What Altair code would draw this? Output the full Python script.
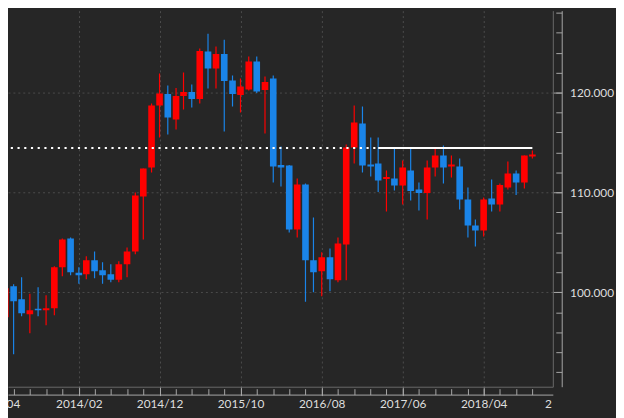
import altair as alt
import pandas as pd

# ---------------- data (monthly candles) ----------------
months = [d.strftime("%Y-%m-%d") for d in pd.date_range("2013-05-01", periods=66, freq="MS")]

opens = [97.5, 100.6, 99.3, 97.8, 98.35, 98.2, 98.4, 102.5,
         105.4, 101.95, 101.8, 103.2, 102.2, 101.8, 101.25, 102.8, 104.1, 109.6, 112.5, 118.7,
         119.85, 117.3, 119.65, 120.05, 119.35, 124.1, 122.4, 123.85, 121.2, 119.75, 120.3, 123.1,
         120.25, 121.4, 112.75, 112.7, 106.3, 110.8, 103.2, 102.1, 103.5, 101.2, 104.8, 114.5,
         116.9, 112.8, 112.9, 111.35, 111.4, 110.7, 112.2, 110.3, 109.95, 112.5, 113.7, 112.6,
         112.6, 109.3, 106.7, 106.2, 109.4, 108.8, 110.5, 111.9, 111.0, 113.6]
highs = [100.9, 100.8, 101.5, 99.85, 100.5, 99.7, 102.6, 105.4,
         105.5, 102.5, 103.6, 104.1, 103.0, 102.8, 103.1, 104.5, 110.0, 112.4, 118.9, 121.9,
         120.7, 120.45, 122.0, 120.8, 124.4, 125.9, 124.6, 125.3, 121.7, 121.4, 123.6, 123.6,
         121.6, 121.7, 114.6, 112.75, 111.4, 110.9, 107.5, 104.0, 104.4, 105.5, 114.8, 118.7,
         118.6, 115.5, 115.5, 112.2, 114.4, 113.2, 114.4, 111.0, 113.2, 114.4, 114.7, 113.7,
         113.4, 110.5, 107.3, 109.5, 111.3, 110.9, 113.1, 112.2, 113.7, 114.2]
lows = [97.2, 93.8, 97.6, 95.9, 97.6, 96.7, 97.7, 101.6,
        101.7, 100.85, 101.3, 101.4, 100.85, 101.0, 101.0, 101.5, 103.8, 105.3, 112.0, 115.5,
        115.8, 116.3, 118.3, 118.5, 118.9, 120.4, 120.4, 116.1, 118.6, 118.0, 120.2, 119.95,
        115.9, 111.0, 110.6, 106.0, 105.5, 99.05, 100.0, 99.6, 100.1, 101.0, 101.2, 112.9,
        112.0, 111.6, 110.05, 108.1, 110.2, 108.8, 109.2, 108.2, 107.3, 111.6, 110.9, 111.5,
        108.3, 105.5, 104.6, 105.6, 108.1, 108.1, 110.3, 109.75, 110.4, 113.4]
closes = [100.4, 99.1, 97.9, 98.2, 98.2, 98.4, 102.5, 105.3,
          102.0, 101.7, 103.2, 102.1, 101.7, 101.25, 102.8, 104.1, 109.7, 112.4, 118.7, 119.9,
          117.5, 119.65, 120.05, 119.35, 124.15, 122.4, 123.85, 121.15, 119.85, 120.6, 123.1, 120.1,
          121.05, 112.6, 112.5, 106.3, 110.8, 103.2, 102.0, 103.5, 101.3, 104.9, 114.5, 117.0,
          112.7, 112.6, 111.2, 111.55, 110.7, 112.5, 110.15, 109.95, 112.5, 113.7, 112.5, 112.8,
          109.3, 106.7, 106.2, 109.3, 108.8, 110.75, 111.9, 111.0, 113.7, 113.8]

# horizontal reference levels (dotted, then solid)
level_value = 114.45
level_styles = ["dotted", "solid"]
level_starts = ["2013-04-01", "2017-03-01"]
level_ends = ["2017-03-01", "2018-10-01"]

df = pd.DataFrame({"month": months, "open": opens, "high": highs,
                   "low": lows, "close": closes})
df["dir"] = ["up" if c >= o else "down" for o, c in zip(opens, closes)]

lines_df = pd.DataFrame({"style": level_styles, "start": level_starts,
                         "end": level_ends, "level": [level_value] * 2})

# ---------------- styling ----------------
BG = "#262626"
GRID = "#4c4c4c"
BORDER = "#6a6a6a"
AXISLINE = "#a8a8a8"
TICK = "#a8a8a8"
LABEL = "#dedede"
FONT = "Lato"
RED = "#ff0000"
BLUE = "#1a84e8"


def dt(y, m, d=1, h=0):
    return alt.DateTime(year=y, month=m, date=d, hours=h, utc=True)


x_start = dt(2013, 5, 29, 12)
x_end = dt(2018, 11, 28, 7)
xscale = alt.Scale(type="utc", domain=[x_start, x_end], nice=False)
yscale = alt.Scale(domain=[90.55, 128.2], zero=False, nice=False)

major_vals = [x_start, dt(2014, 2), dt(2014, 12), dt(2015, 10), dt(2016, 8),
              dt(2017, 6), dt(2018, 4), x_end]
minor_vals = [dt(y, m) for y in range(2013, 2019) for m in (2, 4, 6, 8, 10, 12)
              if (2013, 6) <= (y, m) <= (2018, 10)]
edge = "datum.value < utc(2013, 5, 1) || datum.value > utc(2018, 10, 1)"

x_major = alt.Axis(
    orient="bottom", values=major_vals, title=None, offset=0,
    domain=True, domainColor=BORDER, domainWidth=1,
    ticks=True, tickSize=9, tickColor=TICK,
    tickOpacity={"condition": {"test": edge, "value": 0}, "value": 1},
    grid=True, gridColor=GRID, gridDash=[2, 3],
    gridOpacity={"condition": {"test": edge, "value": 0}, "value": 1},
    labels=True, labelFlush=True, labelOverlap=False, labelPadding=3,
    labelExpr=("datum.value < utc(2013, 5, 1) ? '04' : "
               "datum.value > utc(2018, 10, 1) ? '2' : utcFormat(datum.value, '%Y/%m')"),
    labelFont=FONT, labelFontSize=12, labelColor=LABEL,
)
x_minor = alt.Axis(orient="bottom", values=minor_vals, title=None, offset=2,
                   domain=False, grid=False, labels=False,
                   ticks=True, tickSize=6, tickColor=TICK)
x_line = alt.Axis(orient="bottom", title=None, offset=8, domain=True,
                  domainColor=AXISLINE, ticks=False, labels=False, grid=False)

y_major = alt.Axis(
    orient="right", values=[100, 110, 120], format=".3f", title=None, offset=0,
    domain=True, domainColor=BORDER, ticks=True, tickSize=9, tickColor=TICK,
    grid=True, gridColor=GRID, gridDash=[2, 3],
    labelFont=FONT, labelFontSize=12, labelColor=LABEL, labelPadding=8,
)
y_minor = alt.Axis(orient="right", values=list(range(92, 129, 2)), title=None,
                   offset=3, domain=False, grid=False, labels=False,
                   ticks=True, tickSize=6, tickColor=TICK)
y_line = alt.Axis(orient="right", title=None, offset=9, domain=True,
                  domainColor=AXISLINE, ticks=False, labels=False, grid=False)

color_enc = alt.Color("dir:N", scale=alt.Scale(domain=["up", "down"], range=[RED, BLUE]),
                      legend=None)

base = alt.Chart(df)
wicks = base.mark_rule(strokeWidth=1.2, clip=True).encode(
    x=alt.X("month:T", scale=xscale, axis=x_minor),
    y=alt.Y("low:Q", scale=yscale, axis=y_minor),
    y2="high:Q",
    color=color_enc,
)
bodies = base.mark_bar(size=6.7, clip=True, strokeWidth=0).encode(
    x=alt.X("month:T", scale=xscale, axis=x_major),
    y=alt.Y("open:Q", scale=yscale, axis=y_major),
    y2="close:Q",
    color=color_enc,
)
dotted = alt.Chart(lines_df).transform_filter("datum.style == 'dotted'").mark_rule(
    color="white", strokeWidth=2.2, strokeDash=[2.2, 4.6], clip=True
).encode(
    x=alt.X("start:T", scale=xscale, axis=x_line),
    x2="end:T",
    y=alt.Y("level:Q", scale=yscale, axis=y_line),
)
solid = alt.Chart(lines_df).transform_filter("datum.style == 'solid'").mark_rule(
    color="white", strokeWidth=2, clip=True
).encode(
    x=alt.X("start:T", scale=xscale, axis=None),
    x2="end:T",
    y=alt.Y("level:Q", scale=yscale, axis=None),
)

chart = alt.layer(wicks, bodies, dotted, solid).resolve_axis(
    x="independent", y="independent"
).properties(
    width=552, height=381,
    padding={"left": 0, "top": 0, "right": 64, "bottom": 29},
    autosize=alt.AutoSizeParams(type="none"),
    background=BG,
).configure_view(stroke=None)

chart.save("out.html", embed_options={"renderer": "svg", "actions": False})
